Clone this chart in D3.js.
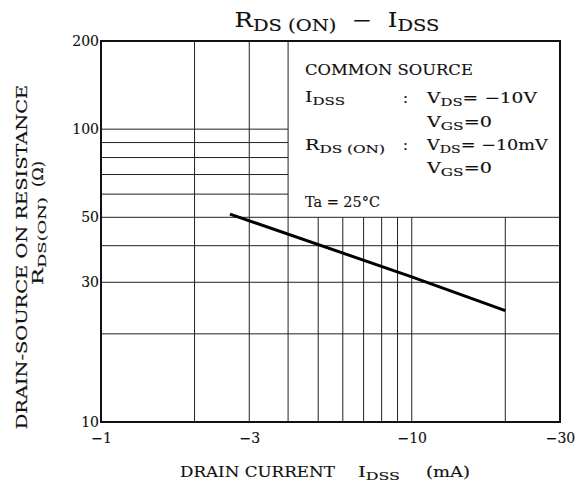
<!DOCTYPE html>
<html>
<head>
<meta charset="utf-8">
<script src="https://cdn.jsdelivr.net/npm/d3@7"></script>
<style>
  body { margin: 0; background: #fff; }
  text { font-family: "DejaVu Serif", serif; fill: #111; white-space: pre; stroke: #111; stroke-width: 0.15; }
</style>
</head>
<body>
<svg id="chart" width="578" height="486"></svg>
<script>
// values
const xTicks = [1, 3, 10, 30];
const yTicks = [10, 30, 50, 100, 200];
const vFull = [2, 3, 4];                  // vertical grid, full height
const vLower = [5, 6, 7, 8, 9, 10, 20];   // vertical grid, below the note box
const hLeft = [60, 70, 80, 90, 100];      // horizontal grid, left of the note box
const hFull = [20, 30, 40, 50];           // horizontal grid, full width
const idss = [2.6, 10, 20];
const rds = [51.3, 31.3, 24.0];

const svg = d3.select('#chart');
const x = d3.scaleLog().domain([1, 30]).range([101, 560]);
const y = d3.scaleLog().domain([10, 200]).range([422, 41]);

// text with subscripts: parts = [[str, isSub], ...]
// width: stretch horizontally to mimic the wide face of the original
function rich(g, px, py, parts, size, width, anchor)
{
    const t = g.append('text')
        .attr('x', px)
        .attr('y', py)
        .attr('font-size', size)
        .attr('text-anchor', anchor || 'start');
    let down = false;
    parts.forEach((p) =>
    {
        const s = t.append('tspan').text(p[0]);
        if (p[1])
        {
            s.attr('font-size', size * 0.8);
            if (!down) s.attr('dy', size * 0.2);
            down = true;
        }
        else
        {
            if (down) s.attr('dy', -size * 0.2);
            down = false;
        }
    });
    if (width)
    {
        const w = t.node().getComputedTextLength();
        const sx = width / w;
        t.attr('transform', `translate(${px},${py}) scale(${sx},1) translate(${-px},${-py})`);
    }
    return t;
}

const grid = svg.append('g').attr('stroke', '#222').attr('stroke-width', 1);

grid.selectAll('.vf').data(vFull).join('line')
    .attr('x1', d => x(d)).attr('x2', d => x(d))
    .attr('y1', y(200)).attr('y2', y(10));

grid.selectAll('.vl').data(vLower).join('line')
    .attr('x1', d => x(d)).attr('x2', d => x(d))
    .attr('y1', y(50)).attr('y2', y(10));

grid.selectAll('.hl').data(hLeft).join('line')
    .attr('x1', x(1)).attr('x2', x(4))
    .attr('y1', d => y(d)).attr('y2', d => y(d));

grid.selectAll('.hf').data(hFull).join('line')
    .attr('x1', x(1)).attr('x2', x(30))
    .attr('y1', d => y(d)).attr('y2', d => y(d));

// frame
svg.append('rect')
    .attr('x', x(1)).attr('y', y(200))
    .attr('width', x(30) - x(1)).attr('height', y(10) - y(200))
    .attr('fill', 'none').attr('stroke', '#111').attr('stroke-width', 2);

// curve
const pts = idss.map((d, i) => [d, rds[i]]);
svg.append('path')
    .datum(pts)
    .attr('fill', 'none')
    .attr('stroke', '#000')
    .attr('stroke-width', 3)
    .attr('d', d3.line().x(d => x(d[0])).y(d => y(d[1])));

// axes
const xAxis = svg.append('g')
    .attr('transform', `translate(0,${y(10)})`)
    .call(d3.axisBottom(x).tickValues(xTicks).tickSize(0).tickPadding(11)
        .tickFormat(d => '\u2212' + d));
const yAxis = svg.append('g')
    .attr('transform', `translate(${x(1)},0)`)
    .call(d3.axisLeft(y).tickValues(yTicks).tickSize(0).tickPadding(2)
        .tickFormat(d => d));
[xAxis, yAxis].forEach((a) =>
{
    a.select('.domain').remove();
    a.selectAll('text').attr('font-size', 14).attr('font-family', '"DejaVu Serif", serif').attr('fill', '#111');
});

// title
rich(svg, 337, 27, [['R', 0], ['DS (ON)', 1], ['  \u2212  I', 0], ['DSS', 1]], 20, 205, 'middle');

// notes
const note = svg.append('g');
rich(note, 305, 75, [['COMMON SOURCE', 0]], 14.5, 168);
rich(note, 305, 102, [['I', 0], ['DSS', 1]], 14.5, 40);
rich(note, 403, 103, [[':', 0]], 14.5);
rich(note, 427, 103, [['V', 0], ['DS', 1], ['= \u221210V', 0]], 14.5, 110);
rich(note, 427, 127, [['V', 0], ['GS', 1], ['=0', 0]], 14.5, 65);
rich(note, 305, 150, [['R', 0], ['DS (ON)', 1]], 14.5, 80);
rich(note, 403, 150, [[':', 0]], 14.5);
rich(note, 427, 150, [['V', 0], ['DS', 1], ['= \u221210mV', 0]], 14.5, 121);
rich(note, 427, 173, [['V', 0], ['GS', 1], ['=0', 0]], 14.5, 65);
rich(note, 305, 207, [['Ta = 25\u00b0C', 0]], 14.5, 75);

// axis titles
rich(svg, 180, 477, [['DRAIN CURRENT', 0]], 14, 155);
rich(svg, 358, 477, [['I', 0], ['DSS', 1]], 14, 42);
rich(svg, 426, 477, [['(mA)', 0]], 14, 44);

const yt = svg.append('g').attr('transform', 'translate(27,257) rotate(-90)');
rich(yt, 0, 0, [['DRAIN-SOURCE ON RESISTANCE', 0]], 14, 345, 'middle');
rich(yt, -28, 16, [['R', 0], ['DS(ON)', 1]], 14, 88);
rich(yt, 70, 16, [['(\u03a9)', 0]], 14, 26);
</script>
</body>
</html>
